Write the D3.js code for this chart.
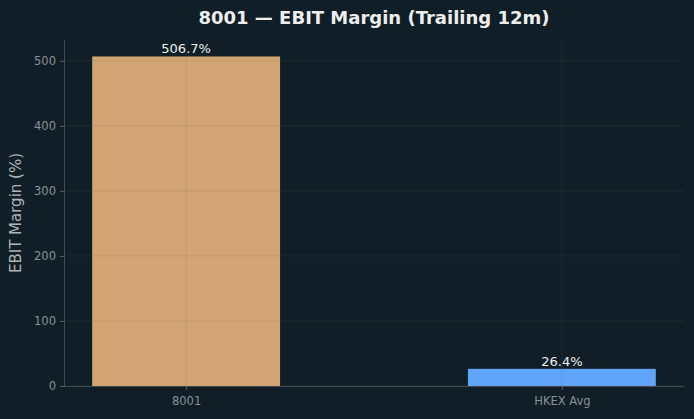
<!DOCTYPE html>
<html>
<head>
<meta charset="utf-8">
<script src="https://cdn.jsdelivr.net/npm/d3@7"></script>
<style>
  html, body { margin: 0; padding: 0; background: #101f27; }
  svg text { font-family: "DejaVu Sans", sans-serif; }
</style>
</head>
<body>
<div id="chart"></div>
<script>
// chart data
var categories = ["8001", "HKEX Avg"];
var values = [506.7, 26.4];
var barColors = ["#d4a574", "#60a5fa"];
var yTicks = [0, 100, 200, 300, 400, 500];

var W = 694, H = 419;
var margin = {top: 40, right: 10, bottom: 33, left: 64},
    width = W - margin.left - margin.right,
    height = H - margin.top - margin.bottom;

var svg = d3.select("#chart")
  .append("svg")
    .attr("width", W)
    .attr("height", H);

svg.append("rect")
  .attr("width", W).attr("height", H)
  .attr("fill", "#101f27");

var g = svg.append("g")
  .attr("transform", "translate(" + margin.left + "," + margin.top + ")");

// x: linear over category index, like matplotlib with 5% margins
var x = d3.scaleLinear()
  .domain([-0.325, 1.325])
  .range([0, width]);
var barW = 0.5;

var y = d3.scaleLinear()
  .domain([0, d3.max(values) * 1.05])
  .range([height, 0]);

// bars
g.selectAll(".bar")
  .data(values)
  .enter().append("rect")
    .attr("class", "bar")
    .attr("x", (d, i) => x(i - barW / 2))
    .attr("width", x(barW) - x(0))
    .attr("y", d => y(d))
    .attr("height", d => y(0) - y(d))
    .attr("fill", (d, i) => barColors[i]);

// grid on top of bars
g.selectAll(".hgrid")
  .data(yTicks)
  .enter().append("line")
    .attr("x1", 0).attr("x2", width)
    .attr("y1", d => y(d)).attr("y2", d => y(d))
    .attr("stroke", "#6a6050")
    .attr("stroke-opacity", 0.22)
    .attr("stroke-width", 0.8);
g.selectAll(".vgrid")
  .data(categories)
  .enter().append("line")
    .attr("x1", (d, i) => x(i)).attr("x2", (d, i) => x(i))
    .attr("y1", 0).attr("y2", height)
    .attr("stroke", "#6a6050")
    .attr("stroke-opacity", 0.22)
    .attr("stroke-width", 0.8);

// value labels
g.selectAll(".val")
  .data(values)
  .enter().append("text")
    .attr("x", (d, i) => x(i))
    .attr("y", d => y(d) - 3)
    .attr("text-anchor", "middle")
    .attr("fill", "#eeeeee")
    .style("font-size", "13px")
    .text(d => d.toFixed(1) + "%");

// axes
var yAxis = g.append("g")
  .call(d3.axisLeft(y).tickValues(yTicks).tickSize(4).tickPadding(4));
var xAxis = g.append("g")
  .attr("transform", "translate(0," + height + ")")
  .call(d3.axisBottom(x).tickValues([0, 1]).tickFormat(i => categories[i]).tickSize(4).tickPadding(7));

[yAxis, xAxis].forEach(function(a) {
  a.select(".domain").attr("stroke", "#444c50");
  a.selectAll(".tick line").attr("stroke", "#555c60");
  a.selectAll(".tick text")
    .attr("fill", "#8a9095")
    .style("font-size", "11.5px");
});
yAxis.select(".domain").attr("d", "M0.5," + height + "V0.5");
xAxis.select(".domain").attr("d", "M0," + 0.5 + "H" + width);

// title
svg.append("text")
  .attr("x", margin.left + width / 2)
  .attr("y", 24)
  .attr("text-anchor", "middle")
  .attr("fill", "#eeeeee")
  .style("font-size", "18px")
  .style("font-weight", "bold")
  .text("8001 \u2014 EBIT Margin (Trailing 12m)");

// y label
svg.append("text")
  .attr("transform", "translate(21," + (margin.top + height / 2) + ") rotate(-90)")
  .attr("text-anchor", "middle")
  .attr("fill", "#b0b4b8")
  .style("font-size", "15px")
  .text("EBIT Margin (%)");
</script>
</body>
</html>
